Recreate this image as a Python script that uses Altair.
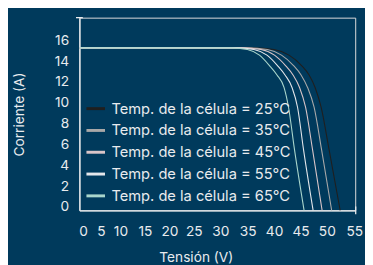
import altair as alt
import pandas as pd

# ---- data ----
series = [
    "Temp. de la célula = 25°C",
    "Temp. de la célula = 35°C",
    "Temp. de la célula = 45°C",
    "Temp. de la célula = 55°C",
    "Temp. de la célula = 65°C",
]
current = [15.6, 15.6, 15.45, 14.9, 13.9, 13.0, 11.8, 9.9, 5.8, 0.0]
v25 = [0.0, 34.5, 38.8, 41.8, 44.3, 45.8, 47.0, 48.2, 49.8, 52.0]
v35 = [0.0, 33.5, 37.5, 40.3, 42.7, 44.2, 45.5, 46.8, 48.3, 50.3]
v45 = [0.0, 32.5, 36.2, 38.9, 41.1, 42.6, 43.9, 45.1, 46.5, 48.4]
v55 = [0.0, 31.5, 34.8, 37.4, 39.5, 41.0, 42.4, 43.5, 44.7, 46.6]
v65 = [0.0, 30.5, 33.5, 35.9, 37.9, 39.4, 40.8, 41.7, 42.9, 44.8]
x_ticks = [0, 5, 10, 15, 20, 25, 30, 35, 40, 45, 50, 55]
y_ticks = [0, 2, 4, 6, 8, 10, 12, 14, 16]

# ---- style ----
colors = ["#1f1f1f", "#a8a8a8", "#d9c5c8", "#e4e7eb", "#a9d6cc"]
BG = "#003a5c"
FG = "#e8ebee"
FONT = "Inter"
# label nudges so the x labels sit like the flowing text of the original
x_label_nudge = {0: 3.7, 5: -3.6, 10: -9.3, 15: -9.9, 20: -10.5, 25: -11.2,
                 30: -9.8, 35: -7.5, 40: -6.1, 45: -4.7, 50: -3.4, 55: -1.0}

rows = []
for name, volts in zip(series, [v25, v35, v45, v55, v65]):
    for v, i in zip(volts, current):
        rows.append({"serie": name, "V": v, "I": i})
df = pd.DataFrame(rows)

x_axis = alt.Axis(
    values=x_ticks, title="Tensión (V)", ticks=False, tickSize=0, grid=False,
    domainColor=FG, domainWidth=1.3,
    labelColor=FG, labelFont=FONT, labelFontSize=14, labelPadding=15,
    labelOffset={"condition": [{"test": f"datum.value == {k}", "value": v}
                               for k, v in x_label_nudge.items()], "value": 0},
    labelFlush=False, labelOverlap=False,
    titleColor=FG, titleFont=FONT, titleFontSize=14, titleFontWeight="normal",
    titleX=119, titleY=52.5, titleBaseline="alphabetic", titleAlign="center",
)
y_axis = alt.Axis(
    values=y_ticks, title="Corriente (A)", ticks=False, tickSize=0, grid=False,
    domainColor=FG, domainWidth=1.3,
    labelColor=FG, labelFont=FONT, labelFontSize=14, labelPadding=11,
    labelOffset=-3.4, labelFlush=False, labelOverlap=False,
    titleColor=FG, titleFont=FONT, titleFontSize=14, titleFontWeight="normal",
    titleX=-61, titleY=98.5, titleBaseline="middle", titleAlign="center", titleAngle=270,
)

lines = alt.Chart(df).mark_line(strokeWidth=1.1, interpolate="monotone").encode(
    x=alt.X("V:Q", scale=alt.Scale(domain=[0, 55], nice=False, zero=True), axis=x_axis),
    y=alt.Y("I:Q", scale=alt.Scale(domain=[0, 18.5], nice=False), axis=y_axis),
    color=alt.Color(
        "serie:N", sort=series,
        scale=alt.Scale(domain=series, range=colors),
        legend=alt.Legend(
            orient="none", legendX=5.7, legendY=82, title=None,
            symbolType="stroke", symbolSize=361, symbolStrokeWidth=3,
            labelFont=FONT, labelFontSize=15, labelColor=FG, labelLimit=0,
            labelOffset=5, rowPadding=3.3, padding=0,
        ),
    ),
)

one = alt.Data(values=[{"k": 0}])
cap_y = alt.Chart(one).mark_rule(color=FG, strokeWidth=1.3).encode(
    x=alt.value(-3.5), x2=alt.value(3.5), y=alt.value(0))
cap_x = alt.Chart(one).mark_rule(color=FG, strokeWidth=1.3).encode(
    x=alt.value(282.5), y=alt.value(193), y2=alt.value(201))

chart = alt.layer(lines, cap_y, cap_x).properties(
    width=282, height=197,
    padding={"left": 73, "top": 7, "right": 10, "bottom": 53},
    autosize=alt.AutoSizeParams(type="none"),
).configure_view(stroke=None).configure(background=BG)

chart.save("out.html", embed_options={"renderer": "svg", "actions": False})
